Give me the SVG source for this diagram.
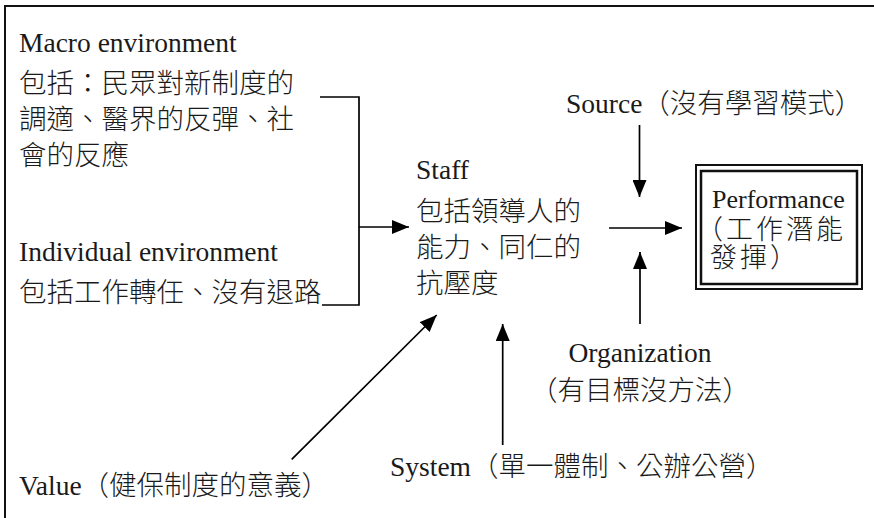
<svg xmlns="http://www.w3.org/2000/svg" width="874" height="518" viewBox="0 0 874 518">
  <style>
    text { font-family: "Liberation Serif", "Noto Sans CJK TC", serif; font-size: 27.5px; font-weight: 300; fill: #1a1a1a; }
    .box text { font-size: 26px; }
    .box .cjk { font-size: 27px; letter-spacing: 3px; }
    .conn { stroke: #000; stroke-width: 1.7; fill: none; }
    .arrow { marker-end: url(#ah); }
    .frame { fill: none; stroke: #111; stroke-width: 2; }
  </style>
  <defs>
    <marker id="ah" viewBox="0 0 17 14" refX="17" refY="7" markerWidth="17" markerHeight="14" markerUnits="userSpaceOnUse" orient="auto">
      <path d="M0,0 L17,7 L0,14 z" fill="#000"/>
    </marker>
  </defs>
  <rect x="0" y="0" width="874" height="518" fill="#fff"/>
  <rect class="frame" x="5" y="6" width="890" height="530"/>

  <g id="macro">
    <text x="19" y="52">Macro environment</text>
    <text x="19" y="93">包括：民眾對新制度的</text>
    <text x="19" y="129">調適、醫界的反彈、社</text>
    <text x="19" y="165">會的反應</text>
  </g>
  <g id="individual">
    <text x="19" y="261">Individual environment</text>
    <text x="19" y="302">包括工作轉任、沒有退路</text>
  </g>
  <g id="staff">
    <text x="416" y="179">Staff</text>
    <text x="416" y="221">包括領導人的</text>
    <text x="416" y="257">能力、同仁的</text>
    <text x="416" y="293">抗壓度</text>
  </g>
  <g id="source">
    <text x="566" y="113">Source（沒有學習模式）</text>
  </g>
  <g id="performance" class="box">
    <rect x="696" y="165" width="166" height="124" fill="none" stroke="#111" stroke-width="2"/>
    <rect x="701" y="171" width="156" height="113" fill="none" stroke="#111" stroke-width="2.5"/>
    <text x="712" y="208">Performance</text>
    <text class="cjk" x="696" y="239">（工作潛能</text>
    <text class="cjk" x="710" y="267">發揮）</text>
  </g>
  <g id="organization">
    <text x="640" y="362" text-anchor="middle">Organization</text>
    <text x="640" y="400" text-anchor="middle">（有目標沒方法）</text>
  </g>
  <g id="system">
    <text x="390" y="476">System（單一體制、公辦公營）</text>
  </g>
  <g id="value">
    <text x="19" y="495">Value（健保制度的意義）</text>
  </g>

  <g id="connectors">
    <polyline class="conn" points="320,97 359,97 359,305 322,305"/>
    <line class="conn arrow" x1="359" y1="227" x2="409" y2="227"/>
    <line class="conn arrow" x1="609" y1="228" x2="682" y2="228"/>
    <line class="conn arrow" x1="639.5" y1="125" x2="639.5" y2="197"/>
    <line class="conn arrow" x1="640" y1="324" x2="640" y2="252"/>
    <line class="conn arrow" x1="502.7" y1="445" x2="502.7" y2="324"/>
    <line class="conn arrow" x1="291.7" y1="459.3" x2="436.7" y2="315"/>
  </g>
</svg>
